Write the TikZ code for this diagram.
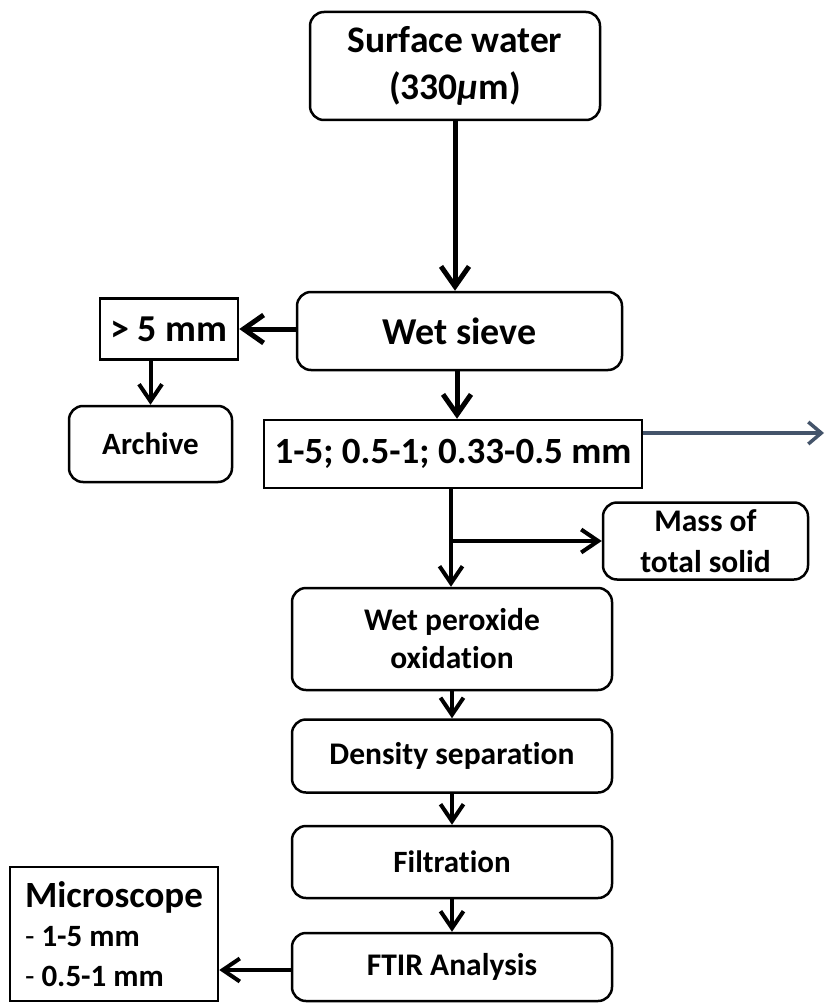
\documentclass[tikz,border=0pt]{standalone}
\usepackage{fontspec}
\setmainfont{Carlito}[Ligatures={NoCommon}]
\usetikzlibrary{arrows.meta}
\definecolor{slate}{HTML}{44546A}
\newcommand{\fsz}[2]{\bfseries\fontsize{#1}{#2}\selectfont}
\begin{document}
\begin{tikzpicture}[x=1pt,y=-1pt,
  rbox/.style={draw=black, line width=2.5pt, rounded corners=14pt, inner sep=0pt, align=center},
  sbox/.style={draw=black, line width=2.5pt, inner sep=0pt, align=center},
  bigarrow/.style={draw=black, line width=5pt, -{Straight Barb[length=20pt,width=28pt]}},
  arrowline/.style={draw=black, line width=4pt, -{Straight Barb[length=17pt,width=23pt]}},
  grayarrow/.style={draw=slate, line width=3.5pt, -{Straight Barb[length=13pt,width=22pt]}}
]
\useasboundingbox (0,0) rectangle (826,1003);

\node[rbox, font=\fsz{37.5}{47}, minimum width=290pt, minimum height=108pt] (sw) at (455,66) {Surface water\\(330\textit{μ}m)};
\node[rbox, font=\fsz{38}{45}, minimum width=325pt, minimum height=78pt] (ws) at (459.5,331) {Wet sieve};
\node[sbox, font=\fsz{38}{45}, minimum width=138pt, minimum height=61pt] (gt) at (169,329) {> 5 mm};
\node[rbox, font=\fsz{31}{36}, minimum width=163pt, minimum height=76pt] (arch) at (150.5,444) {Archive};
\node[sbox, font=\fsz{37}{44}, minimum width=378pt, minimum height=68pt] (sz) at (453,454) {1-5; 0.5-1; 0.33-0.5 mm};
\node[rbox, font=\fsz{31.5}{41}, minimum width=205pt, minimum height=77pt] (mass) at (705.5,541) {Mass of\\total solid};
\node[rbox, font=\fsz{31.5}{38}, minimum width=320pt, minimum height=102pt] (wpo) at (452,639) {Wet peroxide\\oxidation};
\node[rbox, font=\fsz{31.5}{38}, minimum width=320pt, minimum height=73pt] (dens) at (452,756) {Density separation};
\node[rbox, font=\fsz{31}{38}, minimum width=320pt, minimum height=72pt] (filt) at (452,862) {Filtration};
\node[rbox, font=\fsz{31.5}{38}, minimum width=320pt, minimum height=68pt] (ftir) at (452,967) {FTIR Analysis};
\node[sbox, align=left, font=\fsz{31}{39.5}, minimum width=208pt, minimum height=134pt] (mic) at (114,934)
  {{\fontsize{37}{39.5}\selectfont Microscope}\\{\mdseries -} 1-5 mm\\{\mdseries -} 0.5-1 mm};

\coordinate (out) at (824,433);
\coordinate (br) at (451,541);

\draw[bigarrow] (sw.south) -- (sw.south |- ws.north);
\draw[bigarrow] (ws.west |- gt.east) -- (gt.east);
\draw[arrowline] (arch.north |- gt.south) -- (arch.north);
\draw[bigarrow] (ws.south -| 457,0) -- (sz.north -| 457,0);
\draw[grayarrow] (sz.east |- out) -- (out);
\draw[arrowline] (sz.south -| br) -- (wpo.north -| br);
\draw[arrowline] (br) -- (mass.west);
\draw[arrowline] (wpo.south) -- (dens.north);
\draw[arrowline] (dens.south) -- (filt.north);
\draw[arrowline] (filt.south) -- (ftir.north);
\draw[arrowline] (ftir.west |- 0,970) -- (mic.east |- 0,970);
\end{tikzpicture}
\end{document}
